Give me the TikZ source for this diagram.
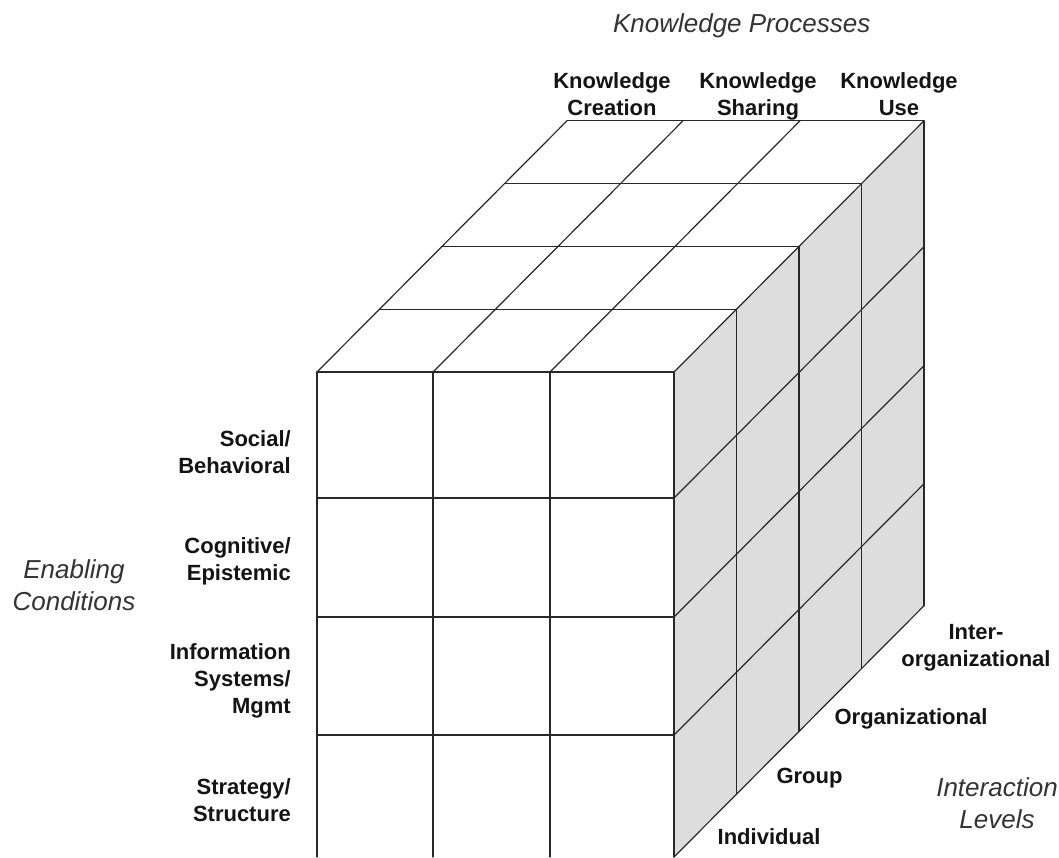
\documentclass[tikz,border=0pt]{standalone}
\usepackage{fontspec}
\setmainfont{Liberation Sans}
\definecolor{sidegray}{RGB}{221,221,221}
\definecolor{linecol}{RGB}{40,40,40}
\tikzset{
  gridline/.style={draw=linecol, line width=1.2pt, line cap=round},
  lvl/.style={font=\fontsize{22}{27}\selectfont\bfseries, inner sep=0pt, align=center, anchor=base, text=black!92},
  cond/.style={font=\fontsize{22}{27}\selectfont\bfseries, inner sep=0pt, align=right, anchor=base east, text=black!92},
  axislabel/.style={font=\fontsize{26}{32}\selectfont\itshape, inner sep=0pt, align=center, anchor=base, text=black!80},
}
\begin{document}
\begin{tikzpicture}[x=1pt,y=-1pt]
\useasboundingbox (0,0) rectangle (1059,857);
% right side face
\fill[sidegray] (674,372) -- (924,120.8) -- (924,605.8) -- (674,857) -- cycle;
\foreach \k in {0,...,4}
  \draw[gridline] (674+\k*62.5, 372-\k*62.8) -- (674+\k*62.5, 857-\k*62.8);
\foreach \y in {372,498,617,735,857}
  \draw[gridline] (674,\y) -- (924,\y-251.2);
% top face
\foreach \k in {0,...,4}
  \draw[gridline] (317+\k*62.5, 372-\k*62.8) -- (674+\k*62.5, 372-\k*62.8);
\foreach \x in {317,433,550}
  \draw[gridline] (\x,372) -- (\x+250,120.8);
% front face
\foreach \x in {317,433,550}
  \draw[gridline] (\x,372) -- (\x,857);
\foreach \y in {498,617,735}
  \draw[gridline] (317,\y) -- (674,\y);
% labels (base anchor = baseline of the last line)
\node[axislabel] (kp) at (741.7,32) {Knowledge Processes};
\node[lvl] (kc) at (612,115) {Knowledge\\Creation};
\node[lvl] (ks) at (758,115) {Knowledge\\Sharing};
\node[lvl] (ku) at (899,115) {Knowledge\\Use};
\node[cond] (sb) at (291,473.3) {Social/\\Behavioral};
\node[cond] (ce) at (291,580.7) {Cognitive/\\Epistemic};
\node[cond] (ism) at (291,713.3) {Information\\Systems/\\Mgmt};
\node[cond] (ss) at (291,821.7) {Strategy/\\Structure};
\node[axislabel] (ec) at (74,610.7) {Enabling\\Conditions};
\node[lvl] (inter) at (976,666.7) {Inter-\\organizational};
\node[lvl] (org) at (911,724.3) {Organizational};
\node[lvl] (grp) at (809.5,783.3) {Group};
\node[lvl] (ind) at (769,844.3) {Individual};
\node[axislabel] (il) at (997,828.3) {Interaction\\Levels};
\end{tikzpicture}
\end{document}
